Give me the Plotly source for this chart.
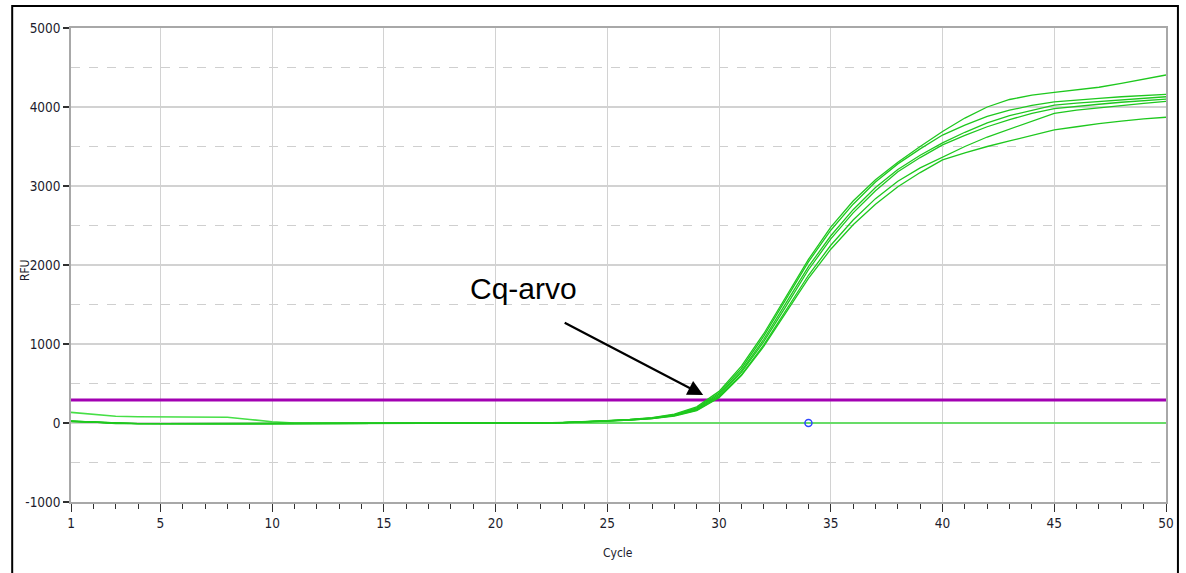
import plotly.graph_objects as go

cycles = list(range(1, 51))

curve_a = [22, 14, -6, -8, -8, -8, -8, -8, -8, -8,
           -8, -8, -8, -8, -8, -8, -8, -8, -8, -8,
           -4, 1, 7, 16, 29, 45, 68, 112, 205, 400,
           720, 1130, 1600, 2070, 2480, 2810, 3080, 3300, 3500, 3690,
           3860, 4000, 4095, 4150, 4185, 4215, 4250, 4300, 4350, 4405]
curve_b = [20, 12, -6, -9, -9, -9, -9, -9, -9, -9,
           -9, -9, -9, -9, -9, -9, -9, -9, -9, -9,
           -5, 0, 6, 15, 28, 43, 65, 106, 192, 380,
           690, 1100, 1570, 2040, 2440, 2770, 3050, 3280, 3470, 3645,
           3770, 3880, 3960, 4020, 4065, 4090, 4110, 4130, 4145, 4160]
curve_c = [24, 13, -5, -7, -7, -7, -7, -7, -7, -7,
           -7, -7, -7, -7, -7, -7, -7, -7, -7, -7,
           -4, 0, 5, 14, 26, 41, 62, 100, 182, 362,
           660, 1060, 1520, 1980, 2370, 2700, 2980, 3210, 3390, 3545,
           3680, 3800, 3890, 3960, 4025, 4050, 4070, 4095, 4115, 4130]
curve_d = [21, 12, -6, -8, -8, -8, -8, -8, -8, -8,
           -8, -8, -8, -8, -8, -8, -8, -8, -8, -8,
           -5, -1, 4, 13, 25, 39, 59, 96, 172, 345,
           640, 1030, 1480, 1940, 2330, 2660, 2940, 3180, 3360, 3520,
           3640, 3750, 3840, 3920, 3980, 4010, 4035, 4060, 4080, 4100]
curve_e = [23, 13, -6, -9, -9, -9, -9, -9, -9, -9,
           -9, -9, -9, -9, -9, -9, -9, -9, -9, -9,
           -5, -1, 4, 12, 24, 38, 57, 92, 163, 330,
           610, 990, 1430, 1870, 2250, 2570, 2840, 3060, 3230, 3370,
           3500, 3620, 3720, 3830, 3920, 3960, 3990, 4020, 4045, 4070]
curve_f = [19, 11, -7, -10, -10, -10, -10, -10, -10, -10,
           -10, -10, -10, -10, -10, -10, -10, -10, -10, -10,
           -6, -2, 3, 11, 23, 36, 55, 88, 156, 320,
           600, 970, 1400, 1830, 2200, 2510, 2770, 2990, 3170, 3330,
           3420, 3500, 3570, 3640, 3710, 3750, 3790, 3820, 3850, 3870]
negative_control = [135, 110, 85, 80, 80, 80, 79, 72, 45, 15,
                    0, 0, 0, 0, 0, 0, 0, 0, 0, 0,
                    0, 0, 0, 0, 0, 0, 0, 0, 0, 0,
                    0, 0, 0, 0, 0, 0, 0, 0, 0, 0,
                    0, 0, 0, 0, 0, 0, 0, 0, 0, 0]

threshold_value = 290
threshold_x = [1, 50]
cq_marker_x = [34]
cq_marker_y = [0]

y_tick_vals = [-1000, 0, 1000, 2000, 3000, 4000, 5000]
y_tick_text = ["-1000", "0", "1000", "2000", "3000", "4000", "5000"]
x_tick_vals = [1, 5, 10, 15, 20, 25, 30, 35, 40, 45, 50]
x_tick_text = ["1", "5", "10", "15", "20", "25", "30", "35", "40", "45", "50"]

x_title = "Cycle"
y_title = "RFU"
annotation_text = "Cq-arvo"
annotation_text_pos = (21.26, 1700)
arrow_tip = (29.29, 354)

tick_font = dict(family="Liberation Sans Narrow, DejaVu Sans Condensed, Arial Narrow, sans-serif",
                 size=13.5, color="#1c1c2c")
title_font = dict(family="Liberation Sans Narrow, DejaVu Sans Condensed, sans-serif",
                  size=12, color="#1c1c2c")

fig = go.Figure()

fig.add_trace(go.Scatter(x=cycles, y=negative_control, mode="lines",
                         line=dict(color="#46df46", width=1.6), showlegend=False))
fig.add_trace(go.Scatter(x=threshold_x, y=[threshold_value, threshold_value], mode="lines",
                         line=dict(color="#a200b2", width=3), showlegend=False))

for series in [curve_f, curve_e, curve_d, curve_c, curve_b, curve_a]:
    fig.add_trace(go.Scatter(x=cycles, y=series, mode="lines",
                             line=dict(color="#1ec81e", width=1.3), showlegend=False))

fig.add_trace(go.Scatter(x=cq_marker_x, y=cq_marker_y, mode="markers",
                         marker=dict(symbol="circle-open", size=7, color="#3048ff",
                                     line=dict(width=1.5, color="#3048ff")),
                         showlegend=False))

fig.add_annotation(x=annotation_text_pos[0], y=annotation_text_pos[1], text=annotation_text,
                   showarrow=False, font=dict(family="Liberation Sans, Arial, sans-serif",
                                              size=30, color="black"))
fig.add_annotation(x=arrow_tip[0], y=arrow_tip[1], text="", showarrow=True,
                   axref="pixel", ayref="pixel", ax=-140, ay=-73,
                   arrowhead=2, arrowsize=1.4, arrowwidth=2.2, arrowcolor="black", standoff=0)

fig.add_annotation(xref="paper", yref="paper", x=0.4991, y=-0.1076, text=x_title,
                   showarrow=False, font=title_font, xanchor="center", yanchor="middle")
fig.add_annotation(xref="paper", yref="paper", x=-0.0419, y=0.4895, text=y_title,
                   showarrow=False, font=title_font, textangle=-90,
                   xanchor="center", yanchor="middle")

fig.add_shape(type="rect", xref="paper", yref="paper",
              x0=-0.0537, x1=1.0109, y0=-0.17, y1=1.0464,
              line=dict(color="black", width=2), fillcolor="rgba(0,0,0,0)", layer="above")

fig.update_layout(
    width=1186, height=573,
    margin=dict(l=71, r=17, t=28, b=71),
    plot_bgcolor="white", paper_bgcolor="white",
    font=dict(family="Liberation Sans Narrow, DejaVu Sans Condensed, sans-serif", color="#1c1c2c"),
)

fig.update_xaxes(
    range=[1, 50], tickmode="array", tickvals=x_tick_vals, ticktext=x_tick_text,
    ticks="outside", ticklen=8, tickcolor="#303030", tickwidth=1,
    showgrid=True, gridcolor="#d2d2d2", gridwidth=1,
    showline=True, linecolor="#a8a8a8", linewidth=1.5, mirror=True,
    zeroline=False, tickfont=tick_font,
    minor=dict(tick0=1, dtick=1, ticks="outside", ticklen=5, tickcolor="#303030", showgrid=False),
)
fig.update_yaxes(
    range=[-1000, 5000], tickmode="array", tickvals=y_tick_vals, ticktext=y_tick_text,
    ticks="outside", ticklen=6, tickcolor="#303030", tickwidth=1.5,
    showgrid=True, gridcolor="#d2d2d2", gridwidth=1.5,
    showline=True, linecolor="#a8a8a8", linewidth=1.5, mirror=True,
    zeroline=False, tickfont=tick_font,
    minor=dict(dtick=500, tick0=0, showgrid=True, gridcolor="#cfcfcf", griddash="dash",
               gridwidth=1, ticks=""),
)

fig.write_html("out.html")
